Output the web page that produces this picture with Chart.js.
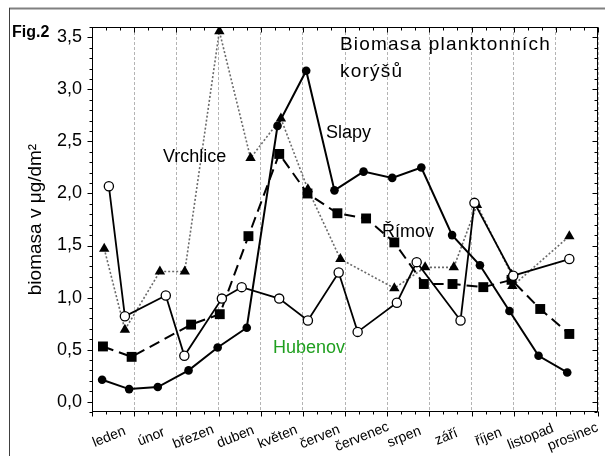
<!DOCTYPE html>
<html><head><meta charset="utf-8">
<script src="https://cdn.jsdelivr.net/npm/chart.js@4"></script>
<style>html,body{margin:0;padding:0;background:#fff}#wrap{position:relative;width:605px;height:456px}</style>
</head><body><div id="wrap"><canvas id="c" width="605" height="456"></canvas></div>
<script>
// ---- data ----
const months = ['leden','únor','březen','duben','květen','červen','červenec','srpen','září','říjen','listopad','prosinec'];
const yTickValues = [0, 0.5, 1, 1.5, 2, 2.5, 3, 3.5];

const slapyX = [0.24, 0.88, 1.56, 2.29, 2.98, 3.67, 4.40, 5.08, 5.75, 6.44, 7.12, 7.81, 8.54, 9.20, 9.90, 10.59, 11.27];
const slapyY = [0.21, 0.12, 0.14, 0.30, 0.52, 0.71, 2.65, 3.18, 2.03, 2.21, 2.15, 2.25, 1.60, 1.31, 0.87, 0.44, 0.28];

const rimovX = [0.26, 0.94, 2.35, 3.03, 3.71, 4.44, 5.11, 5.82, 6.50, 7.17, 7.87, 8.55, 9.28, 9.95, 10.63, 11.32];
const rimovY = [0.53, 0.43, 0.74, 0.84, 1.59, 2.38, 2.00, 1.81, 1.76, 1.53, 1.13, 1.13, 1.10, 1.17, 0.89, 0.65];

const vrchliceX = [0.29, 0.78, 1.61, 2.20, 3.02, 3.76, 4.48, 5.12, 5.89, 7.17, 7.90, 8.58, 9.13, 9.95, 9.97, 11.32];
const vrchliceY = [1.47, 0.69, 1.25, 1.25, 3.56, 2.34, 2.72, 2.04, 1.37, 1.09, 1.29, 1.29, 1.89, 1.22, 1.11, 1.59];

const hubenovX = [0.40, 0.78, 1.75, 2.19, 3.08, 3.55, 4.44, 5.12, 5.85, 6.30, 7.23, 7.70, 8.74, 9.07, 9.99, 11.32];
const hubenovY = [2.07, 0.82, 1.02, 0.44, 0.99, 1.10, 0.99, 0.78, 1.24, 0.67, 0.95, 1.34, 0.78, 1.91, 1.21, 1.37];

const pts = (xs, ys) => xs.map((x, i) => ({x: x, y: ys[i]}));
const FONT = "'Liberation Sans', Arial, sans-serif";

const decor = {
  id: 'decor',
  afterDraw(chart) {
    const ctx = chart.ctx, a = chart.chartArea;
    const xs = chart.scales.x, ys = chart.scales.y;
    ctx.save();
    // outer frame
    ctx.strokeStyle = '#808080'; ctx.lineWidth = 2;
    ctx.beginPath(); ctx.moveTo(9, 8.5); ctx.lineTo(605, 8.5); ctx.stroke();
    ctx.strokeStyle = '#404040'; ctx.lineWidth = 1;
    ctx.beginPath(); ctx.moveTo(9.5, 8); ctx.lineTo(9.5, 456); ctx.stroke();
    // plot frame
    ctx.strokeStyle = '#000'; ctx.lineWidth = 1;
    const L = Math.round(a.left) + 0.5, R = Math.round(a.right) - 0.5, T = Math.round(a.top) + 0.5, B = Math.round(a.bottom) - 0.5;
    ctx.strokeRect(L, T, R - L, B - T);
    // ticks x (major = month boundaries, minor = thirds)
    ctx.beginPath();
    for (let k = 0; k <= 36; k++) {
      const v = k / 3, px = Math.round(xs.getPixelForValue(v)) + 0.5;
      const len = (k % 3 === 0) ? 5 : 3;
      ctx.moveTo(px, B); ctx.lineTo(px, B + len);
      ctx.moveTo(px, T); ctx.lineTo(px, T + len);
    }
    // ticks y
    for (let k = -1; k <= 36; k++) {
      const v = k / 10, py = Math.round(ys.getPixelForValue(v)) + 0.5;
      const len = (k % 5 === 0) ? 5 : 3;
      ctx.moveTo(L, py); ctx.lineTo(L - len, py);
      ctx.moveTo(R, py); ctx.lineTo(R - len, py);
    }
    ctx.stroke();
    // month labels, centred in each month interval, rotated
    ctx.fillStyle = '#000';
    ctx.font = '14px ' + FONT;
    ctx.textAlign = 'center'; ctx.textBaseline = 'middle';
    months.forEach((m, i) => {
      const cx = xs.getPixelForValue(i + 0.5) - 4;
      ctx.save(); ctx.translate(cx, 437); ctx.rotate(-22 * Math.PI / 180);
      ctx.fillText(m, 0, 0); ctx.restore();
    });
    // texts
    ctx.textAlign = 'left'; ctx.textBaseline = 'alphabetic';
    ctx.font = 'bold 16px ' + FONT;
    ctx.fillText('Fig.2', 12, 36.5);
    ctx.font = '19px ' + FONT;
    try { ctx.letterSpacing = '1.2px'; } catch (e) {}
    ctx.fillText('Biomasa planktonních', 340, 50);
    ctx.fillText('korýšů', 340, 77);
    try { ctx.letterSpacing = '0px'; } catch (e) {}
    ctx.font = '18px ' + FONT;
    ctx.fillText('Slapy', 326, 138);
    ctx.fillText('Vrchlice', 163, 162);
    ctx.fillText('Římov', 382, 237);
    ctx.fillStyle = '#1f9f1f';
    ctx.fillText('Hubenov', 273, 353);
    ctx.restore();
  }
};

new Chart(document.getElementById('c'), {
  type: 'line',
  data: {
    datasets: [
      { label: 'Hubenov', data: pts(hubenovX, hubenovY), order: 0,
        borderColor: '#000', borderWidth: 1.8, pointStyle: 'circle', pointRadius: 4.6,
        pointBackgroundColor: '#fff', pointBorderColor: '#000', pointBorderWidth: 1.3, tension: 0 },
      { label: 'Slapy', data: pts(slapyX, slapyY), order: 1,
        borderColor: '#000', borderWidth: 2, pointStyle: 'circle', pointRadius: 4.3,
        pointBackgroundColor: '#000', pointBorderColor: '#000', pointBorderWidth: 0, tension: 0 },
      { label: 'Římov', data: pts(rimovX, rimovY), order: 2,
        borderColor: '#000', borderWidth: 2, borderDash: [11, 6], pointStyle: 'rect', pointRadius: 7,
        pointBackgroundColor: '#000', pointBorderColor: '#000', pointBorderWidth: 0, tension: 0 },
      { label: 'Vrchlice', data: pts(vrchliceX, vrchliceY), order: 3,
        borderColor: '#6a6a6a', borderWidth: 1.6, borderDash: [2, 2], pointStyle: 'triangle', pointRadius: 6,
        pointBackgroundColor: '#000', pointBorderColor: '#000', pointBorderWidth: 0, tension: 0 }
    ]
  },
  options: {
    responsive: false, animation: false, devicePixelRatio: 1,
    layout: { padding: { left: 26, right: 5, top: 27, bottom: 0 } },
    plugins: { legend: { display: false }, tooltip: { enabled: false }, title: { display: false } },
    scales: {
      x: {
        type: 'linear', min: 0, max: 12,
        afterBuildTicks: s => { s.ticks = months.map((m, i) => ({value: i})).concat([{value: 12}]); },
        afterFit: s => { s.height = 44; },
        ticks: { display: false },
        grid: { drawTicks: false, color: '#b4b4b4', lineWidth: 1 },
        border: { display: false, dash: [3, 2] }
      },
      y: {
        type: 'linear', min: -0.1, max: 3.6,
        afterBuildTicks: s => { s.ticks = yTickValues.map(v => ({value: v})); },
        afterFit: s => { s.width = 66; },
        ticks: { padding: 10, color: '#000', font: { size: 18, family: FONT },
                 callback: v => v.toFixed(1).replace('.', ',') },
        grid: { drawTicks: false, drawOnChartArea: false },
        border: { display: false },
        title: { display: true, text: 'biomasa v μg/dm²', color: '#000',
                 font: { size: 19, family: FONT, lineHeight: 1 }, padding: { top: 0, bottom: 0 } }
      }
    }
  },
  plugins: [decor]
});
</script>
</body></html>
